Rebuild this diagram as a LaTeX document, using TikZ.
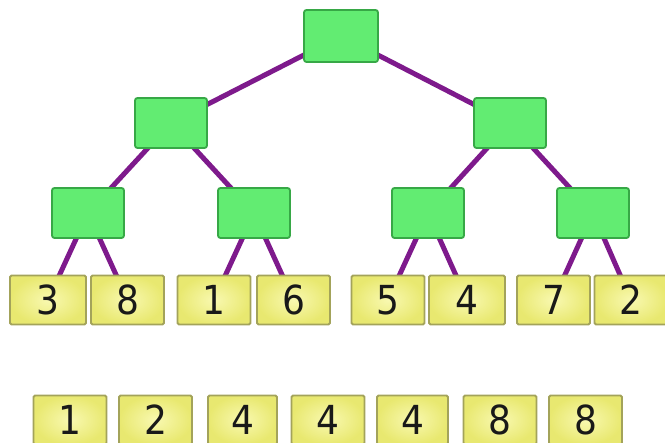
\documentclass[tikz,border=0pt]{standalone}
\usepackage{fontspec}
\setmainfont{DejaVu Sans Condensed}
\pgfdeclarelayer{bottom}
\pgfdeclarelayer{background}
\pgfsetlayers{bottom,background,main}
\definecolor{gfill}{HTML}{62EC72}
\definecolor{gdraw}{HTML}{37A846}
\definecolor{yfill}{HTML}{F4F47C}
\definecolor{ydraw}{HTML}{A3A35A}
\definecolor{edgec}{HTML}{7E1A8C}
\tikzset{
  inner/.style={draw=gdraw, line width=1.8pt, fill=gfill, rounded corners=2.5pt,
    minimum width=72pt, minimum height=50pt, inner sep=0pt},
  leafbox/.style={draw=ydraw, line width=1.8pt, inner color=yfill!60!white, outer color=yfill!90!olive,
    rounded corners=1.5pt, minimum width=73pt, minimum height=49pt, inner sep=0pt,
    font=\fontsize{40}{40}\selectfont, text=black!90},
  edge/.style={draw=edgec, line width=5pt}
}
\begin{document}
\begin{tikzpicture}[x=1pt,y=-1pt]
\useasboundingbox (0,0) rectangle (665,443);
\begin{pgfonlayer}{bottom}
\fill[white] (0,0) rectangle (665,443);
\end{pgfonlayer}
% tree nodes
\node[inner, minimum width=74pt, minimum height=52pt] (r) at (341,36) {};
\node[inner] (a) at (171,123) {};
\node[inner] (b) at (510,123) {};
\node[inner] (a1) at (88,213) {};
\node[inner] (a2) at (254,213) {};
\node[inner] (b1) at (428,213) {};
\node[inner] (b2) at (593,213) {};
% leaves
\node[leafbox, minimum width=76pt] (l1) at (48,300) {3};
\node[leafbox] (l2) at (127.5,300) {8};
\node[leafbox] (l3) at (214,300) {1};
\node[leafbox] (l4) at (293.5,300) {6};
\node[leafbox] (l5) at (388,300) {5};
\node[leafbox, minimum width=76pt] (l6) at (467,300) {4};
\node[leafbox] (l7) at (553.5,300) {7};
\node[leafbox] (l8) at (631,300) {2};
% sorted row
\node[leafbox] (s1) at (70,420) {1};
\node[leafbox] (s2) at (155.5,420) {2};
\node[leafbox, minimum width=69pt] (s3) at (242.5,420) {4};
\node[leafbox] (s4) at (328,420) {4};
\node[leafbox, minimum width=71pt] (s5) at (412.5,420) {4};
\node[leafbox] (s6) at (500,420) {8};
\node[leafbox] (s7) at (585.5,420) {8};
\begin{pgfonlayer}{background}
\draw[edge] (r.center) -- (a.center);
\draw[edge] (r.center) -- (b.center);
\draw[edge] (a.center) -- (a1.center);
\draw[edge] (a.center) -- (a2.center);
\draw[edge] (b.center) -- (b1.center);
\draw[edge] (b.center) -- (b2.center);
\draw[edge] (a1.center) -- (l1.center);
\draw[edge] (a1.center) -- (l2.center);
\draw[edge] (a2.center) -- (l3.center);
\draw[edge] (a2.center) -- (l4.center);
\draw[edge] (b1.center) -- (l5.center);
\draw[edge] (b1.center) -- (l6.center);
\draw[edge] (b2.center) -- (l7.center);
\draw[edge] (b2.center) -- (l8.center);
\end{pgfonlayer}
\end{tikzpicture}
\end{document}
